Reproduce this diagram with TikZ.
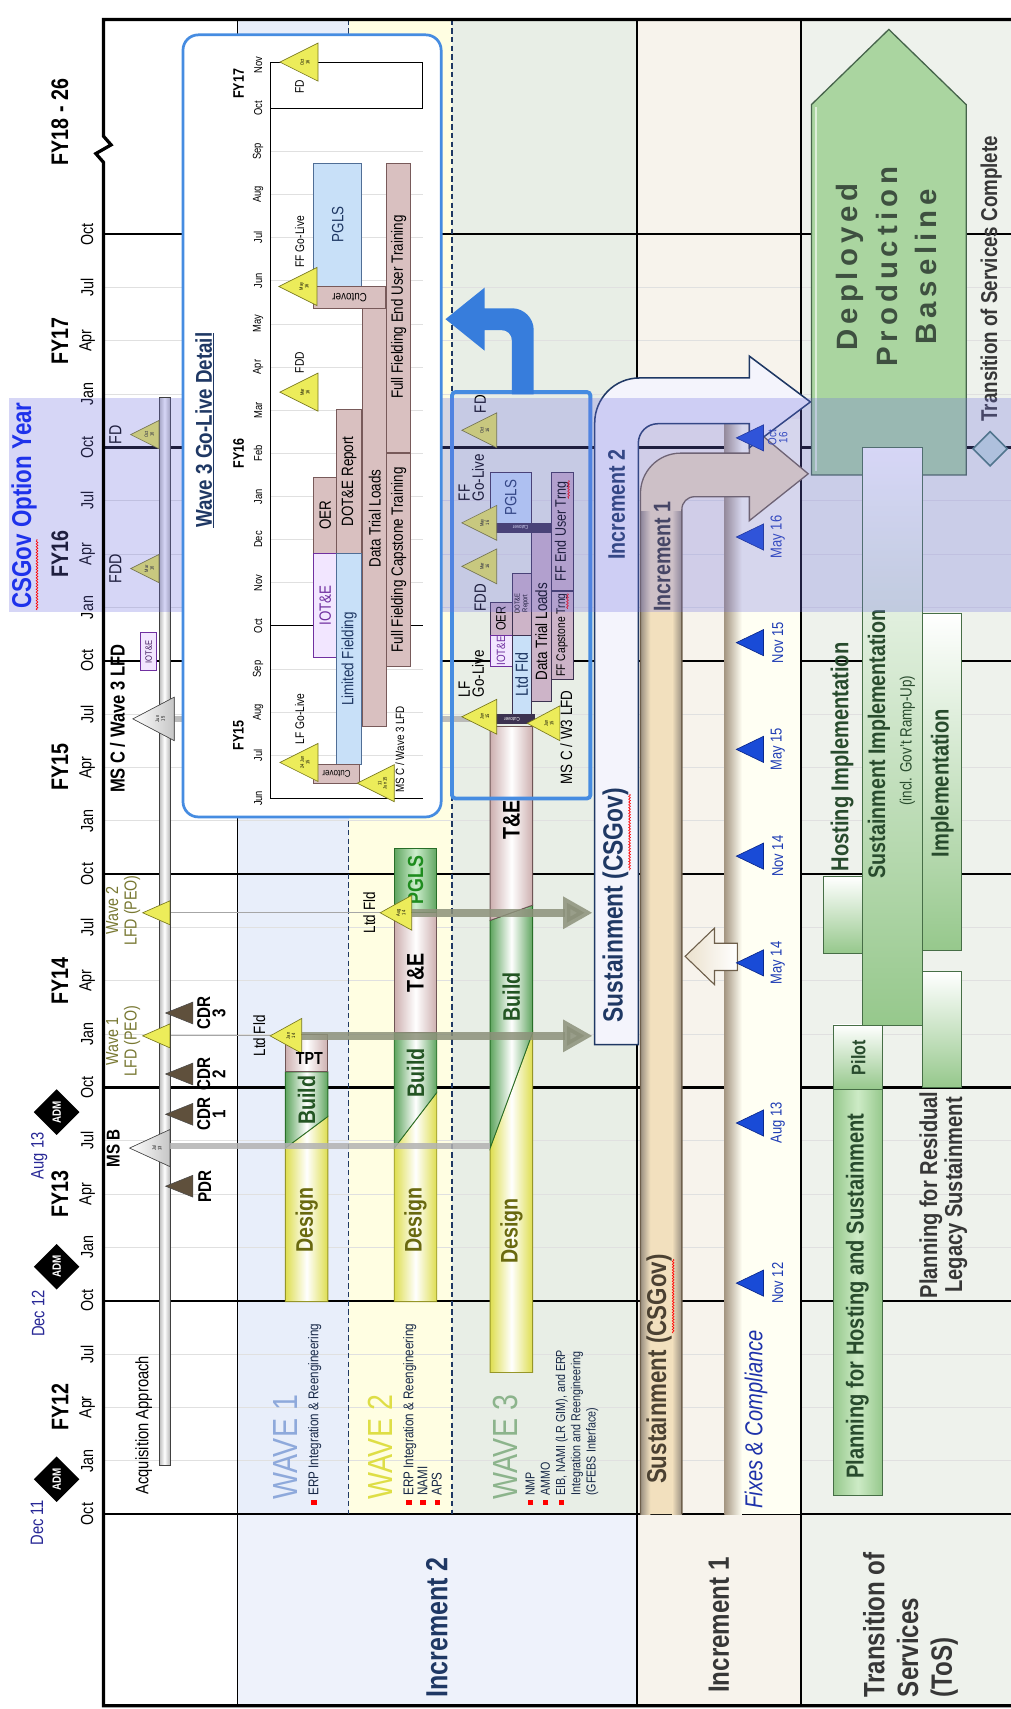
\documentclass[tikz,border=0pt]{standalone}
\usepackage{fontspec}
\setmainfont{Liberation Sans}[FakeStretch=0.82]
\newfontfamily\spacedfont{Liberation Sans}[LetterSpace=17]
\usetikzlibrary{shapes.geometric,arrows.meta,decorations.pathmorphing}
\definecolor{laneA}{RGB}{232,238,250}
\definecolor{laneB}{RGB}{255,254,226}
\definecolor{laneC}{RGB}{232,238,230}
\definecolor{incTwoLab}{RGB}{238,242,251}
\definecolor{incOneBg}{RGB}{247,243,236}
\definecolor{tosBg}{RGB}{238,242,236}
\definecolor{gridc}{RGB}{224,224,224}
\definecolor{navy}{RGB}{31,56,100}
\definecolor{oliveTxt}{RGB}{105,105,15}
\definecolor{lfdTxt}{RGB}{120,120,50}
\definecolor{desEdge}{RGB}{222,222,80}
\definecolor{desLine}{RGB}{150,150,40}
\definecolor{bldEdge}{RGB}{95,165,95}
\definecolor{bldLine}{RGB}{40,110,40}
\definecolor{bldTxt}{RGB}{35,85,35}
\definecolor{teEdge}{RGB}{205,175,175}
\definecolor{teLine}{RGB}{110,85,85}
\definecolor{tanMid}{RGB}{242,224,190}
\definecolor{tanLine}{RGB}{110,95,75}
\definecolor{tanTxt}{RGB}{75,65,50}
\definecolor{creamArr}{RGB}{235,225,205}
\definecolor{fixIv}{RGB}{255,255,243}
\definecolor{fixEdge}{RGB}{165,150,130}
\definecolor{fixBlue}{RGB}{30,50,170}
\definecolor{triBlue}{RGB}{25,75,215}
\definecolor{triBlueD}{RGB}{10,40,140}
\definecolor{dateTxt}{RGB}{30,60,180}
\definecolor{yTri}{RGB}{236,236,90}
\definecolor{yTriD}{RGB}{120,120,30}
\definecolor{brTri}{RGB}{95,80,60}
\definecolor{grMid}{RGB}{205,235,198}
\definecolor{grEdge}{RGB}{150,200,140}
\definecolor{grLine}{RGB}{70,110,70}
\definecolor{grTxt}{RGB}{40,75,45}
\definecolor{depG}{RGB}{170,213,160}
\definecolor{depLine}{RGB}{70,100,75}
\definecolor{depTxt}{RGB}{62,80,64}
\definecolor{bandC}{RGB}{110,110,225}
\definecolor{insetBlue}{RGB}{70,140,225}
\definecolor{arrBlue}{RGB}{55,125,220}
\definecolor{rosy}{RGB}{217,192,192}
\definecolor{rosyD}{RGB}{120,90,90}
\definecolor{lblue}{RGB}{200,224,248}
\definecolor{lblueD}{RGB}{80,110,150}
\definecolor{purp}{RGB}{112,48,160}
\definecolor{purpL}{RGB}{242,230,255}
\definecolor{optBlue}{RGB}{30,50,235}
\definecolor{dateNavy}{RGB}{40,40,150}
\definecolor{grayArr}{RGB}{140,145,122}
\definecolor{mauve}{RGB}{205,180,200}
\definecolor{mauveD}{RGB}{60,50,80}
\definecolor{waveA}{RGB}{142,169,219}
\definecolor{waveB}{RGB}{222,222,70}
\definecolor{waveC}{RGB}{140,180,140}
\definecolor{darkTxt}{RGB}{55,55,55}
\definecolor{incTwoFill}{RGB}{244,244,252}
\definecolor{tosDia}{RGB}{200,225,220}
\definecolor{tosDiaD}{RGB}{70,120,110}
\definecolor{pglsG}{RGB}{30,140,30}
\definecolor{pglsFill}{RGB}{205,238,205}
\newcommand\fs[2]{\fontsize{#1}{#2}\selectfont}
\newcommand\bul{\textcolor{red}{\rule[0.12em]{0.38em}{0.38em}}\hspace{0.3em}}
\newcommand\bulsq{\textcolor{red}{\rule[0.12em]{0.38em}{0.38em}}}
\newcounter{tn}
\newcommand\tinylab[3]{\stepcounter{tn}\node[rt,align=center,font=\fs{4.5}{5}] (tiny\arabic{tn}) at (#1,#2) {#3};}
\newcommand\triR[5]{\filldraw[#5] (#1,#2) -- ++(-#3,-#4) -- ++(0,{2*#4}) -- cycle;}
\newcommand\triL[5]{\filldraw[#5] (#1,#2) -- ++(#3,-#4) -- ++(0,{2*#4}) -- cycle;}
\begin{document}
\begin{tikzpicture}[x=1pt,y=-1pt,
  rt/.style={rotate=90, inner sep=0pt, outer sep=0pt},
  desbar/.style={left color=desEdge, right color=desEdge, middle color=white, draw=desLine, line width=0.8},
  bldbar/.style={left color=bldEdge, right color=bldEdge, middle color=white, draw=bldLine, line width=0.8},
  tebar/.style={left color=teEdge, right color=teEdge, middle color=white, draw=teLine, line width=0.8},
  ytri/.style={fill=yTri, draw=yTriD, line width=0.6},
  btri/.style={fill=brTri, draw=black!70, line width=0.5},
  wtri/.style={left color=white, right color=gray!45, draw=gray!60!black, line width=0.6},
  bluetri/.style={fill=triBlue, draw=triBlueD, line width=0.6},
  greenv/.style={top color=white, bottom color=grEdge, draw=grLine, line width=0.8},
  greenh/.style={left color=grEdge, right color=grEdge, middle color=grMid, draw=grLine, line width=0.8},
  ibar/.style={fill=rosy, draw=rosyD, line width=0.6},
  ibarB/.style={fill=lblue, draw=lblueD, line width=0.6},
  ibarP/.style={fill=purpL, draw=purp, line width=1},
  mbar/.style={fill=mauve, draw=mauveD, line width=0.6},
  mbarB/.style={fill=lblue, draw=mauveD, line width=0.6},
  mbarP/.style={fill=purpL, draw=purp, line width=0.8},
  mcut/.style={fill=mauveD, draw=mauveD},
  grayarrow/.style={draw=grayArr, line width=7, opacity=0.85, -{Triangle[length=27pt,width=28pt]}},
  squig/.style={red, line width=0.6, decorate, decoration={snake, amplitude=0.8pt, segment length=2.6pt}},
]
\useasboundingbox (0,0) rectangle (928,1569);
\fill[white] (0,0) rectangle (928,1569);
% ---------- backgrounds
\fill[laneA] (218,18) rectangle (320,1390);
\fill[laneB] (320,18) rectangle (415,1390);
\fill[laneC] (415,18) rectangle (585,1390);
\fill[incTwoLab] (218,1390) rectangle (585,1566);
\fill[incOneBg] (585,18) rectangle (735,1566);
\fill[tosBg] (735,18) rectangle (928,1566);
% ---------- grid
\foreach \k in {1,...,23}{\draw[gridc,line width=0.9] (95,{1390-\k*48.958}) -- (928,{1390-\k*48.958});}
\foreach \k in {0,4,...,24}{\draw[black,line width=2] (95,{1390-\k*48.958}) -- (928,{1390-\k*48.958});}
\draw[black,line width=1.4] (218,18) -- (218,1566);
\draw[black,line width=2] (585,18) -- (585,1566);
\draw[black,line width=2] (735,18) -- (735,1566);
\draw[navy,dash pattern=on 5pt off 3pt,line width=1] (320,18) -- (320,1390);
\draw[navy,dash pattern=on 5pt off 3pt,line width=1] (415,18) -- (415,1390);
% ---------- time axis labels
\foreach \k in {0,...,24}{\pgfmathtruncatemacro\q{mod(\k,4)}\node[rt,font=\fs{16}{16}] (mon\k) at (80,{1390-\k*48.958}) {\ifcase\q Oct\or Jan\or Apr\or Jul\fi};}
\foreach \i/\n in {0/12,1/13,2/14,3/15,4/16,5/17}{\node[rt,font=\bfseries\fs{22}{24}] (fy\n) at (55,{1292-\i*195.83}) {FY\n};}
\node[rt,font=\bfseries\fs{22}{24}] (fy18) at (55,112) {FY18 - 26};
\node[diamond,fill=black,minimum width=42,minimum height=42,inner sep=0,rotate=90,text=white,font=\bfseries\fs{11}{12}] (adm1) at (52,1358) {ADM};
\node[diamond,fill=black,minimum width=42,minimum height=42,inner sep=0,rotate=90,text=white,font=\bfseries\fs{11}{12}] (adm2) at (52,1163) {ADM};
\node[diamond,fill=black,minimum width=42,minimum height=42,inner sep=0,rotate=90,text=white,font=\bfseries\fs{11}{12}] (adm3) at (52,1021) {ADM};
\node[rt,font=\fs{16.5}{17},text=dateNavy] (dec11) at (34,1398) {Dec 11};
\node[rt,font=\fs{16.5}{17},text=dateNavy] (dec12) at (35,1206) {Dec 12};
\node[rt,font=\fs{16.5}{17},text=dateNavy] (aug13) at (36,1061) {Aug 13};
% ---------- header column (acquisition approach)
\coordinate (w1lfdR) at (156,951); \coordinate (w1ltdL) at (248,951);
\coordinate (w2lfdR) at (156,838); \coordinate (w2ltdL) at (349,838);
\draw[gray!70,line width=0.8] (w1lfdR) -- (w1ltdL);
\draw[gray!70,line width=0.8] (w2lfdR) -- (w2ltdL);
\draw[left color=gray!55,right color=gray!55,middle color=white,draw=gray!50!black,line width=0.6] (146,365) rectangle (156,1345);
\node[rt,anchor=west,font=\fs{16.5}{17}] (acq) at (132,1372) {Acquisition Approach};
\triL{152}{1089}{25}{10}{btri}
\triL{152}{1023}{25}{10}{btri}
\triL{152}{986}{25}{10}{btri}
\triL{152}{930}{25}{10}{btri}
\node[rt,font=\bfseries\fs{17}{18}] (pdr) at (188,1089) {PDR};
\node[rt,align=center,font=\bfseries\fs{17}{14}] (cdr1) at (194,1023) {CDR\\1};
\node[rt,align=center,font=\bfseries\fs{17}{14}] (cdr2) at (194,986) {CDR\\2};
\node[rt,align=center,font=\bfseries\fs{17}{14}] (cdr3) at (194,930) {CDR\\3};
\triL{119}{1054}{37}{17}{wtri}
\tinylab{144}{1054}{Jul\\13}
\node[rt,font=\bfseries\fs{17}{18}] (msb) at (104,1054) {MS B};
\triL{131}{951}{25}{11}{ytri}
\triL{131}{838}{25}{11}{ytri}
\node[rt,align=center,font=\fs{16}{17},text=lfdTxt] (w1lfd) at (113,956) {Wave 1\\LFD (PEO)};
\node[rt,align=center,font=\fs{16}{17},text=lfdTxt] (w2lfd) at (113,836) {Wave 2\\LFD (PEO)};
\filldraw[fill=purpL,draw=purp,line width=0.9] (129,581) rectangle (144,616);
\node[rt,font=\fs{8.5}{9},text=purp!60!black] (hiot) at (136.5,598.5) {IOT\&E};
\triL{120}{522}{26}{13}{ytri}
\tinylab{137}{522}{Mar\\16}
\triL{120}{399}{26}{13}{ytri}
\tinylab{137}{399}{Oct\\16}
\node[rt,font=\fs{16}{17}] (fddh) at (106,522) {FDD};
\node[rt,font=\fs{16}{17}] (fdh) at (106,399) {FD};
% ---------- wave lanes
\node[rt,anchor=west,font=\fs{32}{34},text=waveA] (wv1) at (262,1377) {WAVE 1};
\node[rt,anchor=west,font=\fs{13}{13},text=navy!70!black] (bl1) at (289,1382) {\bul ERP Integration \& Reengineering};
\node[rt,anchor=west,font=\fs{32}{34},text=waveB] (wv2) at (349,1377) {WAVE 2};
\node[rt,anchor=north west,align=left,font=\fs{13}{13},text=navy!70!black] (bl2) at (370,1382) {\bul ERP Integration \& Reengineering\\\bul NAMI\\\bul APS};
\node[rt,anchor=west,font=\fs{32}{34},text=waveC] (wv3) at (464,1377) {WAVE 3};
\node[rt,anchor=north west,align=left,font=\fs{12}{14},text=navy!70!black] (bl3) at (481,1382) {\begin{tabular}{@{}l@{\hspace{0.35em}}l@{}}\bulsq&NMP\\\bulsq&AMMO\\\bulsq&EIB, NAMI (LR GIM), and ERP\\&Integration and Reengineering\\&(GFEBS Interface)\end{tabular}};
% wave 1
\filldraw[desbar] (262,1195) -- (301,1195) -- (301,1025) -- (262,1054) -- cycle;
\filldraw[bldbar] (262,1054) -- (301,1025) -- (301,984) -- (262,984) -- cycle;
\filldraw[tebar] (262,984) rectangle (301,950);
\node[rt,font=\bfseries\fs{22}{22},text=oliveTxt] (d1) at (281.5,1120) {Design};
\node[rt,font=\bfseries\fs{22}{22},text=bldTxt] (bu1) at (281.5,1010) {Build};
% wave 2
\filldraw[desbar] (362,1195) -- (401,1195) -- (401,1003) -- (362,1054) -- cycle;
\filldraw[bldbar] (362,1054) -- (401,1003) -- (401,948) -- (362,948) -- cycle;
\filldraw[tebar] (362,948) rectangle (401,838);
\filldraw[left color=bldEdge,right color=bldEdge,middle color=pglsFill,draw=bldLine,line width=0.9] (362,838) rectangle (401,779);
\node[rt,font=\bfseries\fs{22}{22},text=oliveTxt] (d2) at (381.5,1120) {Design};
\node[rt,font=\bfseries\fs{22}{22},text=bldTxt] (bu2) at (381.5,985) {Build};
\node[rt,font=\bfseries\fs{22}{22}] (te2) at (381.5,893) {T\&E};
\node[rt,font=\bfseries\fs{20}{20},text=pglsG] (pg2) at (381.5,808) {PGLS};
% wave 3
\filldraw[desbar] (450,1260) -- (489,1260) -- (489,948) -- (450,1054) -- cycle;
\filldraw[bldbar] (450,1054) -- (489,948) -- (489,831) -- (450,845) -- cycle;
\filldraw[tebar] (450,845) -- (489,831) -- (489,667) -- (450,667) -- cycle;
\node[rt,font=\bfseries\fs{22}{22},text=oliveTxt] (d3) at (469.5,1130) {Design};
\node[rt,font=\bfseries\fs{22}{22},text=bldTxt] (bu3) at (469.5,915) {Build};
\node[rt,font=\bfseries\fs{22}{22}] (te3) at (469.5,753) {T\&E};
% milestone lines
\coordinate (msbR) at (156,1052); \coordinate (w3db) at (450,1052);
\coordinate (mscR) at (160,660); \coordinate (w3te) at (450,660);
\draw[gray!60,line width=5,opacity=0.85] (msbR) -- (w3db);
\draw[gray!60,line width=5,opacity=0.85] (mscR) -- (w3te);
\triL{122}{660}{38}{20}{wtri}
\tinylab{147}{660}{Jun\\15}
\node[rt,font=\bfseries\fs{18.5}{19}] (msc) at (108,660) {MS C / Wave 3 LFD};
% Ltd Fld
\triL{248}{951}{29}{16}{ytri}
\tinylab{267}{951}{Jan\\14}
\triL{349}{838}{29}{16}{ytri}
\tinylab{368}{838}{Aug\\14}
\node[inner sep=0,font=\bfseries\fs{16}{16}] (tpt) at (284,972) {TPT};
\node[rt,font=\fs{15}{15}] (lf1) at (238,951) {Ltd Fld};
\node[rt,font=\fs{15}{15}] (lf2) at (339,838) {Ltd Fld};
\coordinate (ltd1) at (277,951); \coordinate (sus1a) at (544,951);
\coordinate (ltd2) at (378,838); \coordinate (sus1b) at (544,838);
\draw[grayarrow] (ltd1) -- (sus1a);
\draw[grayarrow] (ltd2) -- (sus1b);
% ---------- increment 1 column
\fill[fixIv] (665,385) rectangle (734,1390);
\fill[left color=fixEdge,right color=fixIv] (665,385) rectangle (681,1390);
\node[rt,anchor=west,font=\itshape\fs{22.5}{23},text=fixBlue] (fixes) at (694,1385) {Fixes \& Compliance};
\filldraw[fill=tanMid,draw=none] (588,1390) -- (588,453) .. controls (588,433) and (604,416) .. (625,416) -- (688,416) -- (688,390) -- (742,435) -- (688,478) -- (688,456) -- (638,456) .. controls (631,456) and (626,461) .. (626,468) -- (626,1390) -- cycle;
\fill[left color=tanLine!70,right color=tanMid] (588,470) rectangle (597,1390);
\fill[left color=tanMid,right color=tanLine!70] (617,470) rectangle (626,1390);
\draw[tanLine,line width=1.2] (588,1390) -- (588,453) .. controls (588,433) and (604,416) .. (625,416) -- (688,416) -- (688,390) -- (742,435) -- (688,478) -- (688,456) -- (638,456) .. controls (631,456) and (626,461) .. (626,468) -- (626,1390);
\node[rt,font=\bfseries\fs{25}{25},text=tanTxt] (susA) at (605,1257) {Sustainment (CSGov)};
\draw[squig] (618,1156) -- (618,1224);
\node[rt,font=\bfseries\fs{22}{22},text=darkTxt] (inc1a) at (608,511) {Increment 1};
% increment 2 arrow / sustainment box
\filldraw[fill=incTwoFill,draw=navy,line width=1.4] (546,959) -- (546,388) .. controls (546,366) and (564,347) .. (587,347) -- (688,347) -- (688,327) -- (744,369) -- (688,411) -- (688,389) -- (604,389) .. controls (594,389) and (586,397) .. (586,407) -- (586,959) -- cycle;
\node[rt,font=\bfseries\fs{25.5}{26},text=navy] (susB) at (565,831) {Sustainment (CSGov)};
\draw[squig] (578,729) -- (578,799);
\node[rt,font=\bfseries\fs{22}{22},text=navy] (inc2a) at (566,463) {Increment 2};
% left arrow
\filldraw[left color=creamArr,right color=white,draw=tanLine,line width=1] (629,878) -- (656,852) -- (656,866) -- (677,866) -- (677,891) -- (656,891) -- (656,904) -- cycle;
% blue triangles
\foreach \yy/\lab in {1178/Nov 12,1031/Aug 13,884/May 14,786/Nov 14,688/May 15,590/Nov 15,493/May 16}{
  \filldraw[bluetri] (676,\yy) -- ++(25,-12) -- ++(0,24) -- cycle;
  \node[rt,font=\fs{14.5}{15},text=dateTxt] (bl\yy) at (714,\yy) {\lab};
}
\filldraw[bluetri] (676,402) -- ++(25,-12) -- ++(0,24) -- cycle;
\node[rt,align=center,font=\fs{11}{10},text=dateTxt] (bloct) at (714,402) {Oct\\16};
% ---------- ToS column
\filldraw[greenh] (765,1000) rectangle (810,1373);
\node[rt,font=\bfseries\fs{22.5}{23},text=grTxt] (phs) at (787,1190) {Planning for Hosting and Sustainment};
\filldraw[greenv] (765,941) rectangle (810,1000);
\node[rt,font=\bfseries\fs{18}{18},text=grTxt] (pilot) at (788,971) {Pilot};
\filldraw[greenv] (756,805) rectangle (792,875);
\node[rt,anchor=west,font=\bfseries\fs{22.5}{23},text=grTxt] (host) at (773,800) {Hosting Implementation};
\filldraw[fill=depG,draw=depLine,line width=1.2] (745,436) -- (745,96) -- (816,27) -- (887,96) -- (887,436) -- cycle;
\draw[white,opacity=0.6,line width=2] (749,432) -- (749,98);
\node[rt,align=center,font=\spacedfont\bfseries\fs{27}{36.5},text=depTxt] (dpb) at (814,245) {Deployed\\Production\\Baseline};
\filldraw[greenv] (792,411) rectangle (847,941);
\node[rt,font=\bfseries\fs{22}{22},text=grTxt] (susimp) at (807,683) {Sustainment Implementation};
\node[rt,font=\fs{15}{15},text=grTxt] (govt) at (833,680) {(incl. Gov't Ramp-Up)};
\filldraw[greenv] (847,563) rectangle (883,873);
\node[rt,font=\bfseries\fs{22.5}{23},text=grTxt] (impl) at (865,719) {Implementation};
\filldraw[greenv] (847,892) rectangle (883,998);
\node[rt,align=center,font=\bfseries\fs{22.5}{23},text=darkTxt] (resid) at (866,1097) {Planning for Residual\\Legacy Sustainment};
\node[diamond,draw=tosDiaD,fill=tosDia,line width=1.5,minimum width=32,minimum height=32,inner sep=0] (tosd) at (909,412) {};
\node[rt,anchor=west,font=\bfseries\fs{21}{22},text=darkTxt] (tosc) at (910,387) {Transition of Services Complete};
% ---------- row labels
\node[rt,font=\bfseries\fs{28}{28},text=navy] (inc2) at (401,1494) {Increment 2};
\node[rt,font=\bfseries\fs{27}{27},text=darkTxt] (inc1) at (660,1492) {Increment 1};
\node[rt,anchor=west,align=left,font=\bfseries\fs{27}{31},text=darkTxt] (tos) at (836,1558) {Transition of\\Services\\(ToS)};
% ---------- wave 3 detail box content
\filldraw[mbarB] (450,434) rectangle (488,480);
\node[rt,font=\fs{15}{15},text=navy] (dpgls) at (469,457) {PGLS};
\filldraw[mcut] (450,480) rectangle (506,489);
\node[rotate=180,inner sep=0,font=\fs{5}{5},text=white] (dcut1) at (478,484.5) {Cutover};
\filldraw[mbar] (506,434) rectangle (526,542);
\node[rt,font=\fs{14}{14}] (dffe) at (516,488) {FF End User Trng};
\draw[squig] (522,441) -- (522,458);
\filldraw[mbar] (506,543) rectangle (526,624);
\node[rt,font=\fs{11.5}{12}] (dffc) at (516,583) {FF Capstone Trng};
\draw[squig] (521,545) -- (521,559);
\filldraw[mbar] (488,489) rectangle (506,644);
\node[rt,font=\fs{15}{15}] (ddtl) at (497,580) {Data Trial Loads};
\filldraw[mbar] (470,526) rectangle (488,583);
\node[rt,align=center,font=\fs{6.5}{7}] (ddot) at (479,554) {DOT\&E\\Report};
\filldraw[mbar] (450,553) rectangle (470,583);
\node[rt,font=\fs{12.5}{13}] (doer) at (460,568) {OER};
\filldraw[mbarP] (450,583) rectangle (470,612);
\node[rt,font=\fs{11}{11},text=purp] (diot) at (460,597.5) {IOT\&E};
\filldraw[mbarB] (470,583) rectangle (488,656);
\node[rt,font=\fs{16}{16},text=navy] (dltd) at (479,619) {Ltd Fld};
\filldraw[mcut] (450,656) rectangle (490,664);
\node[rotate=180,inner sep=0,font=\fs{5}{5},text=white] (dcut2) at (470,660) {Cutover};
\triL{424}{395}{32}{16}{ytri} \tinylab{445}{395}{Oct\\16}
\triL{424}{480}{32}{16}{ytri} \tinylab{445}{480}{May\\16}
\triL{424}{520}{32}{16}{ytri} \tinylab{445}{520}{Mar\\16}
\triL{424}{658}{32}{16}{ytri} \tinylab{445}{658}{Jun\\15}
\triL{484}{664}{30}{16}{ytri} \tinylab{504}{664}{Jun\\15}
\node[rt,font=\fs{15}{15}] (dfd) at (441,371) {FD};
\node[rt,anchor=north west,align=left,font=\fs{15}{13}] (dff) at (421,460) {FF\\Go-Live};
\node[rt,font=\fs{15}{15}] (dfdd) at (441,549) {FDD};
\node[rt,anchor=north west,align=left,font=\fs{15}{13}] (dlf) at (421,640) {LF\\Go-Live};
\node[rt,anchor=east,font=\fs{15}{15}] (dmsc) at (520,634) {MS C / W3 LFD};
\draw[insetBlue,line width=3.5,rounded corners=3] (415,360) rectangle (542,733);
% ---------- option year band
\fill[bandC,opacity=0.28] (8,365) rectangle (928,562);
\node[rt,font=\bfseries\fs{25}{27},text=optBlue] (csopt) at (22,464) {CSGov Option Year};
\draw[squig] (34,560) -- (34,495);
% ---------- inset: wave 3 go-live detail
\filldraw[fill=white,draw=insetBlue,line width=2.5,rounded corners=14] (168,32) rectangle (405,750);
\node[rt,font=\bfseries\fs{21}{22},text=navy] (ititle) at (188,395) {\underline{Wave 3 Go-Live Detail}};
\foreach \m in {1,...,16}{\draw[gridc,line width=0.8] (248,{733-\m*39.6}) -- (388,{733-\m*39.6});}
\draw[black,line width=1] (388,57) -- (248,57) -- (248,733) -- (388,733);
\draw[black,line width=1] (388,57) -- (388,99.4);
\draw[black,line width=1] (248,99.4) -- (388,99.4);
\draw[black,line width=1] (248,574.6) -- (388,574.6);
\foreach \m/\mn in {0/Jun,1/Jul,2/Aug,3/Sep,4/Oct,5/Nov,6/Dec,7/Jan,8/Feb,9/Mar,10/Apr,11/May,12/Jun,13/Jul,14/Aug,15/Sep,16/Oct,17/Nov}{\node[rt,font=\fs{10.5}{11}] (im\m) at (237,{733-\m*39.6}) {\mn};}
\node[rt,font=\bfseries\fs{14}{14}] (ify17) at (219,77) {FY17};
\node[rt,font=\bfseries\fs{14}{14}] (ify16) at (219,416) {FY16};
\node[rt,font=\bfseries\fs{14}{14}] (ify15) at (219,675) {FY15};
\filldraw[ibarB] (288,150) rectangle (332,263);
\node[rt,font=\fs{15}{15},text=navy] (ipgls) at (310,206) {PGLS};
\filldraw[ibar] (288,263) rectangle (354,283);
\node[rotate=180,inner sep=0,font=\fs{11}{11}] (icut1) at (321,273) {Cutover};
\filldraw[ibar] (355,150) rectangle (377,415);
\node[rt,font=\fs{15}{15}] (iffe) at (366,282) {Full Fielding End User Training};
\filldraw[ibar] (355,416) rectangle (377,612);
\node[rt,font=\fs{15}{15}] (iffc) at (366,514) {Full Fielding Capstone Training};
\filldraw[ibar] (333,283) rectangle (355,667);
\node[rt,font=\fs{15}{15}] (idtl) at (344,476) {Data Trial Loads};
\filldraw[ibar] (309,376) rectangle (332,508);
\node[rt,font=\fs{15}{15}] (idot) at (320.5,442) {DOT\&E Report};
\filldraw[ibar] (288,438) rectangle (309,508);
\node[rt,font=\fs{15}{15}] (ioer) at (298.5,473) {OER};
\filldraw[ibarP] (288,508) rectangle (309,604);
\node[rt,font=\fs{15}{15},text=purp] (iiot) at (298.5,556) {IOT\&E};
\filldraw[ibarB] (309,508) rectangle (332,702);
\node[rt,font=\fs{15}{15},text=navy] (iltd) at (320.5,605) {Limited Fielding};
\filldraw[ibar] (288,702) rectangle (330,719);
\node[rotate=180,inner sep=0,font=\fs{9}{9}] (icut2) at (309,710.5) {Cutover};
\triL{257}{57}{35}{17.5}{ytri} \tinylab{280}{57}{Oct\\16}
\triL{256}{263}{35}{17.5}{ytri} \tinylab{279}{263}{May\\16}
\triL{257}{360}{35}{17.5}{ytri} \tinylab{280}{360}{Mar\\16}
\triL{257}{700}{35}{17.5}{ytri} \tinylab{280}{700}{24 Jun\\15}
\triL{328}{719}{34}{17}{ytri} \tinylab{351}{719}{11\\Jun 15}
\node[rt,font=\fs{11.5}{12}] (ifd) at (275,80) {FD};
\node[rt,font=\fs{11.5}{12}] (iff) at (275,222) {FF Go-Live};
\node[rt,font=\fs{11.5}{12}] (ifdd) at (275,333) {FDD};
\node[rt,font=\fs{11.5}{12}] (ilf) at (275,660) {LF Go-Live};
\node[rt,font=\fs{11}{12}] (imsc) at (367,688) {MS C / Wave 3 LFD};
% blue arrow from detail box to inset
\fill[arrBlue] (470,362) -- (470,313) .. controls (470,307) and (466,303) .. (460,303) -- (445,303) -- (445,322) -- (409,293) -- (445,264) -- (445,283) -- (470,283) .. controls (481,283) and (490,292) .. (490,303) -- (490,362) -- cycle;
% ---------- frame
\draw[black,line width=3] (928,18) -- (95,18) -- (95,125) -- (102,133) -- (88,141) -- (95,149) -- (95,1566) -- (928,1566);
\end{tikzpicture}
\end{document}
